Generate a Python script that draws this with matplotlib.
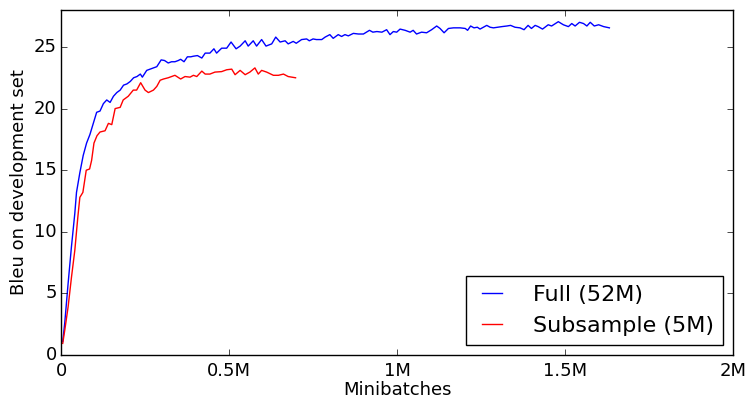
import matplotlib

matplotlib.use("Agg")
import matplotlib.pyplot as plt

# ===== 数据（从参考图读取，单位：百万 minibatch） =====
full_batches = [
    0.005, 0.011, 0.021, 0.031, 0.041, 0.046, 0.056, 0.066, 0.076, 0.086,
    0.096, 0.106, 0.116, 0.126, 0.136, 0.146, 0.156, 0.166, 0.176, 0.186,
    0.196, 0.206, 0.216, 0.226, 0.236, 0.242, 0.255, 0.265, 0.275, 0.285,
    0.298, 0.308, 0.319, 0.329, 0.339, 0.349, 0.356, 0.366, 0.376, 0.386,
    0.394, 0.406, 0.419, 0.429, 0.443, 0.455, 0.463, 0.478, 0.493, 0.506,
    0.521, 0.533, 0.548, 0.557, 0.572, 0.582, 0.597, 0.610, 0.627, 0.639,
    0.652, 0.667, 0.676, 0.691, 0.700, 0.716, 0.731, 0.739, 0.750, 0.760,
    0.776, 0.786, 0.800, 0.810, 0.825, 0.835, 0.845, 0.855, 0.870, 0.885,
    0.900, 0.918, 0.928, 0.940, 0.955, 0.969, 0.979, 0.989, 0.999, 1.009,
    1.024, 1.039, 1.048, 1.058, 1.073, 1.088, 1.103, 1.118, 1.128, 1.140,
    1.153, 1.168, 1.188, 1.203, 1.210, 1.219, 1.229, 1.239, 1.247, 1.257,
    1.267, 1.277, 1.287, 1.299, 1.312, 1.327, 1.338, 1.351, 1.366, 1.378,
    1.390, 1.400, 1.411, 1.420, 1.433, 1.450, 1.460, 1.480, 1.495, 1.510,
    1.520, 1.530, 1.543, 1.555, 1.565, 1.575, 1.587, 1.600, 1.615, 1.632,
]
full_bleu = [
    1.1, 2.6, 5.8, 8.8, 11.5, 13.2, 14.8, 16.2, 17.2, 17.9,
    18.8, 19.7, 19.8, 20.4, 20.7, 20.5, 21.0, 21.3, 21.5, 21.9,
    22.0, 22.2, 22.5, 22.6, 22.8, 22.55, 23.1, 23.2, 23.3, 23.4,
    23.95, 23.9, 23.7, 23.8, 23.8, 23.9, 24.0, 23.8, 24.2, 24.2,
    24.25, 24.3, 24.1, 24.5, 24.5, 24.85, 24.5, 24.9, 24.9, 25.4,
    24.85, 25.07, 25.5, 25.07, 25.5, 25.07, 25.6, 25.07, 25.25, 25.8,
    25.4, 25.5, 25.25, 25.45, 25.3, 25.6, 25.65, 25.5, 25.65, 25.6,
    25.6, 25.8, 26.0, 25.7, 26.0, 25.85, 26.0, 25.9, 26.1, 26.05,
    26.05, 26.35, 26.2, 26.25, 26.2, 26.4, 26.0, 26.25, 26.2, 26.45,
    26.35, 26.2, 26.35, 26.05, 26.2, 26.15, 26.4, 26.7, 26.5, 26.15,
    26.5, 26.55, 26.55, 26.5, 26.35, 26.7, 26.55, 26.6, 26.45, 26.6,
    26.75, 26.6, 26.55, 26.6, 26.65, 26.7, 26.75, 26.6, 26.55, 26.4,
    26.75, 26.5, 26.75, 26.65, 26.45, 26.8, 26.7, 27.05, 26.8, 26.65,
    26.9, 26.7, 27.0, 26.9, 26.7, 27.0, 26.7, 26.8, 26.65, 26.55,
]

sub_batches = [
    0.005, 0.011, 0.021, 0.031, 0.041, 0.050, 0.056, 0.065, 0.075, 0.085,
    0.091, 0.098, 0.107, 0.116, 0.131, 0.141, 0.151, 0.161, 0.176, 0.185,
    0.200, 0.215, 0.225, 0.237, 0.250, 0.260, 0.275, 0.285, 0.295, 0.305,
    0.319, 0.339, 0.356, 0.369, 0.384, 0.394, 0.404, 0.419, 0.429, 0.443,
    0.458, 0.478, 0.493, 0.508, 0.518, 0.533, 0.548, 0.562, 0.577, 0.587,
    0.597, 0.612, 0.632, 0.647, 0.662, 0.676, 0.698,
]
sub_bleu = [
    0.95, 2.0, 3.9, 6.3, 8.5, 11.2, 12.8, 13.2, 15.0, 15.1,
    15.8, 17.2, 17.8, 18.1, 18.2, 18.8, 18.7, 20.0, 20.1, 20.7,
    21.0, 21.5, 21.5, 22.1, 21.5, 21.3, 21.5, 21.8, 22.3, 22.4,
    22.5, 22.7, 22.4, 22.6, 22.55, 22.7, 22.6, 23.04, 22.8, 22.8,
    22.96, 23.0, 23.15, 23.2, 22.75, 23.1, 22.75, 22.96, 23.3, 22.8,
    23.1, 22.96, 22.7, 22.7, 22.8, 22.6, 22.5,
]

x_ticks = [0, 0.5, 1.0, 1.5, 2.0]
x_tick_labels = ["0", "0.5M", "1M", "1.5M", "2M"]
y_ticks = [0, 5, 10, 15, 20, 25]

plt.style.use("classic")
plt.rcParams["figure.facecolor"] = "white"
plt.rcParams["savefig.facecolor"] = "white"
plt.rcParams["font.family"] = "DejaVu Sans"

figure = plt.figure(figsize=(7.48, 3.99), dpi=100)
axis = figure.add_axes([0.0816, 0.110, 0.8984, 0.865])

axis.plot(full_batches, full_bleu, color="blue", linewidth=1, label="Full (52M)")
axis.plot(sub_batches, sub_bleu, color="red", linewidth=1, label="Subsample (5M)")

axis.set_xlim(0, 2.0)
axis.set_ylim(0, 28)
axis.set_xticks(x_ticks)
axis.set_xticklabels(x_tick_labels)
axis.set_yticks(y_ticks)
axis.tick_params(labelsize=13)
axis.tick_params(axis="x", pad=5)
axis.tick_params(axis="y", pad=3)

axis.set_xlabel("Minibatches", fontsize=13, labelpad=1)
axis.set_ylabel("Bleu on development set", fontsize=13, labelpad=4)

axis.legend(
    loc="lower right",
    fontsize=16,
    handlelength=1.5,
    handletextpad=1.1,
    borderaxespad=0.45,
    fancybox=False,
)

figure.savefig("out.png", dpi=100)
plt.close(figure)
